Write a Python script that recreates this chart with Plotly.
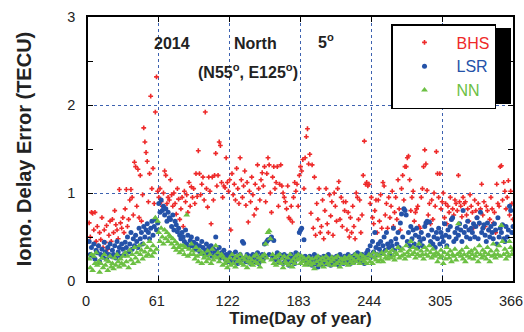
import plotly.graph_objects as go

# ---- data ----
bhs = [
0.66,0.50,0.78,0.77,0.58,0.78,0.45,0.62,0.40,0.55,
0.47,0.72,0.38,0.58,0.44,0.63,0.36,0.52,0.68,0.45,
0.70,0.55,0.80,0.64,0.58,0.48,1.04,0.66,0.60,0.72,
0.55,0.82,1.04,0.62,0.70,0.92,1.04,0.95,0.75,1.35,
1.30,0.85,1.27,0.72,1.20,0.68,0.98,1.74,1.58,1.46,
1.36,0.90,1.22,2.10,1.05,1.28,0.88,1.92,2.32,1.02,
0.95,1.05,0.90,0.85,1.00,1.25,1.20,0.88,0.95,0.92,
1.15,0.98,0.85,1.00,0.88,0.76,1.05,0.93,0.70,0.82,
0.95,0.62,1.02,0.90,0.98,0.78,1.12,0.85,1.07,0.95,
1.05,0.88,1.22,0.96,1.48,1.22,0.98,1.10,1.18,0.92,
1.92,1.05,0.84,1.18,1.02,0.65,1.18,0.92,1.20,1.45,
1.08,1.20,1.58,1.54,1.12,0.95,1.08,1.06,1.40,1.12,
1.02,1.15,0.58,1.22,0.98,1.10,0.92,1.28,1.05,0.88,
1.40,1.15,0.95,1.08,1.25,0.86,1.12,0.67,1.02,0.90,
1.18,0.98,0.75,1.10,0.82,1.32,1.05,0.92,1.15,1.23,
1.08,1.30,0.90,1.22,1.40,1.32,1.00,0.78,1.18,1.30,
1.05,1.12,1.30,0.85,1.10,1.32,1.08,1.00,0.95,0.90,
0.82,1.08,0.72,0.70,0.85,0.67,0.95,1.12,1.02,1.10,
0.85,1.20,1.30,1.25,1.38,1.05,1.40,1.64,1.73,1.33,
1.44,0.77,1.32,0.60,1.18,0.52,0.88,0.70,1.05,0.55,
0.62,0.92,0.48,0.80,1.05,0.65,0.55,0.98,0.74,0.90,
0.52,1.00,0.85,0.68,1.05,1.13,0.70,0.95,0.62,0.90,
0.80,0.90,0.58,0.78,0.50,0.72,0.55,0.85,0.62,0.48,
1.00,0.95,0.70,0.92,0.55,0.75,1.20,1.59,1.10,1.12,
1.08,1.10,0.88,0.95,0.72,0.65,0.80,0.92,0.55,0.92,
0.68,0.98,0.60,1.12,1.08,0.75,0.88,0.60,0.95,0.72,
0.85,1.02,0.62,0.78,0.95,0.70,1.15,0.82,0.58,1.05,
1.20,0.92,1.30,1.30,1.40,1.42,1.15,0.80,0.95,1.02,
0.68,0.78,0.82,0.85,0.62,0.60,0.95,1.05,1.30,1.49,
1.33,1.03,0.75,0.88,0.65,0.92,0.70,1.00,0.85,1.47,
1.22,0.95,1.22,0.82,0.90,1.00,0.72,0.88,0.65,0.85,
0.78,0.95,0.70,0.82,0.75,0.92,0.88,0.80,1.20,0.90,
0.85,0.73,0.95,0.88,0.90,0.75,0.82,0.68,0.98,0.85,
0.78,0.60,0.92,0.80,0.72,0.88,0.65,0.82,1.10,0.75,
0.90,0.62,0.85,0.80,0.58,0.70,0.95,0.82,0.66,0.78,
0.55,1.10,0.88,0.85,1.30,1.31,0.92,1.12,1.02,0.82,
0.95,1.14,0.75,1.02,0.88,0.70]

lsr = [
0.45,0.30,0.38,0.28,0.42,0.25,0.35,0.32,0.40,0.22,
0.30,0.36,0.27,0.44,0.33,0.25,0.38,0.30,0.42,0.28,
0.35,0.30,0.40,0.26,0.45,0.33,0.38,0.28,0.42,0.36,
0.30,0.44,0.38,0.50,0.33,0.42,0.55,0.36,0.48,0.40,
0.52,0.45,0.38,0.60,0.48,0.55,0.42,0.62,0.50,0.58,
0.65,0.55,0.48,0.60,0.68,0.52,0.62,0.70,0.58,0.66,
0.88,0.78,0.92,0.80,0.85,0.75,0.82,0.68,0.78,0.72,
0.70,0.62,0.75,0.58,0.68,0.64,0.56,0.60,0.52,0.48,
0.55,0.50,0.45,0.58,0.42,0.52,0.38,0.46,0.50,0.40,
0.44,0.36,0.42,0.48,0.35,0.40,0.32,0.45,0.38,0.30,
0.35,0.42,0.30,0.38,0.33,0.40,0.28,0.36,0.32,0.50,
0.34,0.30,0.38,0.26,0.32,0.28,0.35,0.25,0.30,0.22,
0.28,0.32,0.24,0.30,0.22,0.27,0.33,0.25,0.20,0.28,
0.30,0.24,0.45,0.43,0.26,0.22,0.30,0.25,0.28,0.20,
0.26,0.30,0.22,0.28,0.24,0.32,0.20,0.27,0.23,0.30,
0.25,0.42,0.28,0.45,0.47,0.30,0.48,0.50,0.26,0.46,
0.28,0.24,0.32,0.22,0.30,0.26,0.28,0.20,0.30,0.24,
0.22,0.28,0.18,0.25,0.30,0.22,0.27,0.20,0.32,0.25,
0.30,0.55,0.58,0.60,0.25,0.47,0.28,0.22,0.26,0.20,
0.28,0.22,0.18,0.25,0.30,0.20,0.24,0.16,0.27,0.22,
0.25,0.18,0.28,0.22,0.20,0.26,0.30,0.24,0.18,0.27,
0.22,0.25,0.20,0.28,0.24,0.18,0.30,0.22,0.26,0.20,
0.28,0.24,0.22,0.30,0.26,0.20,0.25,0.28,0.22,0.30,
0.26,0.32,0.24,0.28,0.22,0.30,0.25,0.20,0.28,0.32,
0.35,0.30,0.40,0.28,0.45,0.33,0.55,0.38,0.30,0.42,
0.36,0.45,0.32,0.40,0.50,0.35,0.55,0.42,0.38,0.30,
0.45,0.40,0.60,0.35,0.48,0.42,0.55,0.38,0.66,0.76,
0.50,0.82,0.80,0.75,0.45,0.55,0.40,0.62,0.48,0.58,
0.42,0.52,0.60,0.38,0.50,0.45,0.55,0.40,0.48,0.62,
0.66,0.68,0.52,0.67,0.45,0.58,0.42,0.50,0.38,0.55,
0.48,0.60,0.42,0.55,0.50,0.45,0.65,0.52,0.40,0.58,
0.50,0.62,0.70,0.72,0.45,0.55,0.48,0.60,0.52,0.65,
0.58,0.45,0.80,0.55,0.62,0.50,0.68,0.58,0.48,0.60,
0.55,0.65,0.50,0.62,0.72,0.48,0.66,0.78,0.55,0.60,
0.64,0.52,0.45,0.66,0.58,0.50,0.62,0.55,0.48,0.65,
0.58,0.42,0.72,0.50,0.60,0.55,0.64,0.48,0.45,0.62,
0.50,0.58,0.85,0.80,0.55,0.62]

nn = [
0.25,0.15,0.30,0.12,0.28,0.20,0.32,0.18,0.22,0.10,
0.20,0.26,0.15,0.30,0.18,0.24,0.12,0.22,0.28,0.16,
0.20,0.14,0.26,0.18,0.30,0.22,0.16,0.25,0.20,0.28,
0.18,0.32,0.22,0.28,0.15,0.35,0.24,0.30,0.20,0.38,
0.26,0.32,0.22,0.40,0.30,0.35,0.25,0.42,0.33,0.28,
0.38,0.30,0.45,0.35,0.28,0.40,0.32,0.72,0.36,0.68,
0.55,0.45,0.60,0.50,0.42,0.58,0.48,0.55,0.45,0.52,
0.50,0.42,0.48,0.38,0.45,0.35,0.42,0.38,0.32,0.40,
0.35,0.40,0.30,0.38,0.75,0.28,0.36,0.30,0.42,0.34,
0.30,0.25,0.38,0.28,0.22,0.35,0.30,0.20,0.32,0.26,
0.28,0.22,0.34,0.25,0.30,0.20,0.36,0.24,0.28,0.40,
0.26,0.32,0.22,0.28,0.30,0.18,0.26,0.20,0.24,0.15,
0.22,0.26,0.18,0.30,0.20,0.25,0.16,0.28,0.22,0.24,
0.30,0.20,0.26,0.18,0.24,0.28,0.15,0.22,0.26,0.20,
0.24,0.18,0.28,0.22,0.30,0.20,0.26,0.16,0.24,0.28,
0.22,0.30,0.42,0.26,0.55,0.57,0.48,0.24,0.30,0.20,
0.26,0.18,0.28,0.22,0.30,0.20,0.25,0.15,0.28,0.22,
0.20,0.26,0.18,0.30,0.22,0.16,0.25,0.20,0.28,0.24,
0.30,0.25,0.20,0.28,0.22,0.26,0.18,0.24,0.20,0.27,
0.22,0.18,0.25,0.20,0.14,0.26,0.22,0.28,0.18,0.24,
0.20,0.26,0.16,0.23,0.28,0.20,0.25,0.18,0.22,0.27,
0.24,0.18,0.26,0.20,0.28,0.22,0.16,0.25,0.20,0.24,
0.27,0.20,0.25,0.18,0.28,0.22,0.26,0.20,0.24,0.30,
0.22,0.28,0.25,0.20,0.30,0.24,0.28,0.22,0.26,0.20,
0.25,0.30,0.22,0.28,0.20,0.32,0.26,0.24,0.30,0.22,
0.28,0.24,0.32,0.22,0.30,0.26,0.34,0.25,0.28,0.32,
0.26,0.35,0.28,0.24,0.32,0.30,0.38,0.26,0.34,0.28,
0.36,0.30,0.25,0.40,0.32,0.28,0.35,0.45,0.30,0.38,
0.32,0.26,0.36,0.30,0.42,0.28,0.34,0.30,0.25,0.38,
0.30,0.35,0.28,0.40,0.32,0.26,0.36,0.30,0.28,0.32,
0.22,0.30,0.26,0.35,0.28,0.20,0.32,0.25,0.38,0.30,
0.26,0.34,0.22,0.30,0.28,0.36,0.24,0.30,0.65,0.32,
0.28,0.35,0.25,0.30,0.22,0.38,0.28,0.32,0.26,0.34,
0.30,0.25,0.36,0.28,0.32,0.22,0.40,0.30,0.26,0.35,
0.28,0.32,0.25,0.38,0.30,0.22,0.34,0.28,0.42,0.30,
0.26,0.35,0.30,0.40,0.28,0.63,0.45,0.30,0.36,0.25,
0.32,0.28,0.45,0.38,0.30,0.35]

days = list(range(1, 367))
x_ticks = [0, 61, 122, 183, 244, 305, 366]
y_ticks = [0, 1, 2, 3]

RED = "#ee2a2a"
BLUE = "#2452a8"
GREEN = "#6cc043"
GRID = "#3d62b0"
FONT = "Liberation Sans, Arial, sans-serif"

fig = go.Figure()
fig.add_trace(go.Scatter(x=days, y=bhs, mode="markers",
    name="<span style='color:%s'>BHS</span>" % RED,
    marker=dict(symbol="cross", size=4, color=RED, line=dict(width=0))))
fig.add_trace(go.Scatter(x=days, y=lsr, mode="markers",
    name="<span style='color:%s'>LSR</span>" % BLUE,
    marker=dict(symbol="circle", size=5, color=BLUE, line=dict(width=0))))
fig.add_trace(go.Scatter(x=days, y=nn, mode="markers",
    name="<span style='color:%s'>NN</span>" % GREEN,
    marker=dict(symbol="triangle-up", size=6, color=GREEN, line=dict(width=0))))

W, H = 524, 332
L, R, T, B = 88, 11, 17, 51
pw, ph = W - L - R, H - T - B

def px(xp):
    return (xp - L) / pw

def py(yp):
    return (H - B - yp) / ph

axis_common = dict(
    automargin=False,
    showline=True, linecolor="black", linewidth=1.5, mirror="ticks",
    ticks="inside", ticklen=5, tickwidth=1.2, tickcolor="black",
    showgrid=True, gridcolor=GRID, gridwidth=1, griddash="dot",
    zeroline=False, ticklabeloverflow="allow",
    tickfont=dict(family=FONT, size=14.5, color="#222"),
)

def note(text, xp, yp):
    return dict(text=text, x=px(xp), y=py(yp), xref="paper", yref="paper",
                xanchor="center", yanchor="middle", showarrow=False,
                font=dict(family=FONT, size=16, color="#222"))

fig.update_layout(
    width=W, height=H,
    margin=dict(l=L, r=R, t=T, b=B, autoexpand=False),
    paper_bgcolor="white", plot_bgcolor="white",
    font=dict(family=FONT),
    xaxis=dict(range=[0, 366], tickvals=x_ticks, ticktext=[str(v) for v in x_ticks],
               ticklabelstandoff=6, ticklabelshift=-2,
               title=dict(text="<b>Time(Day of year)</b>", font=dict(family=FONT, size=17, color="#222"),
                          standoff=4),
               **axis_common),
    yaxis=dict(range=[0, 3], tickvals=y_ticks, ticktext=[str(v) for v in y_ticks],
               minor=dict(dtick=0.5, ticks="inside", ticklen=5, tickcolor="black", showgrid=False),
               ticklabelstandoff=8,
               title=dict(text="<b>Iono. Delay Error (TECU)</b>", font=dict(family=FONT, size=20, color="#222"),
                          standoff=30),
               **axis_common),
    showlegend=True,
    legend=dict(x=px(391), y=py(24), xanchor="left", yanchor="top",
                bgcolor="white", bordercolor="black", borderwidth=1.5,
                font=dict(family=FONT, size=16), itemwidth=54, tracegroupgap=0,
                entrywidth=80),
    shapes=[dict(type="rect", xref="paper", yref="paper", layer="above",
                 x0=px(395), x1=px(511), y0=py(104), y1=py(28),
                 fillcolor="black", line=dict(width=0))],
    annotations=[
        note("<b>2014</b>", 172, 43),
        note("<b>North</b>", 255, 43),
        note("<b>5<sup>o</sup></b>", 326, 41),
        note("<b>(N55<sup>o</sup>, E125<sup>o</sup>)</b>", 248, 71),
    ],
)

fig.write_html("out.html")
